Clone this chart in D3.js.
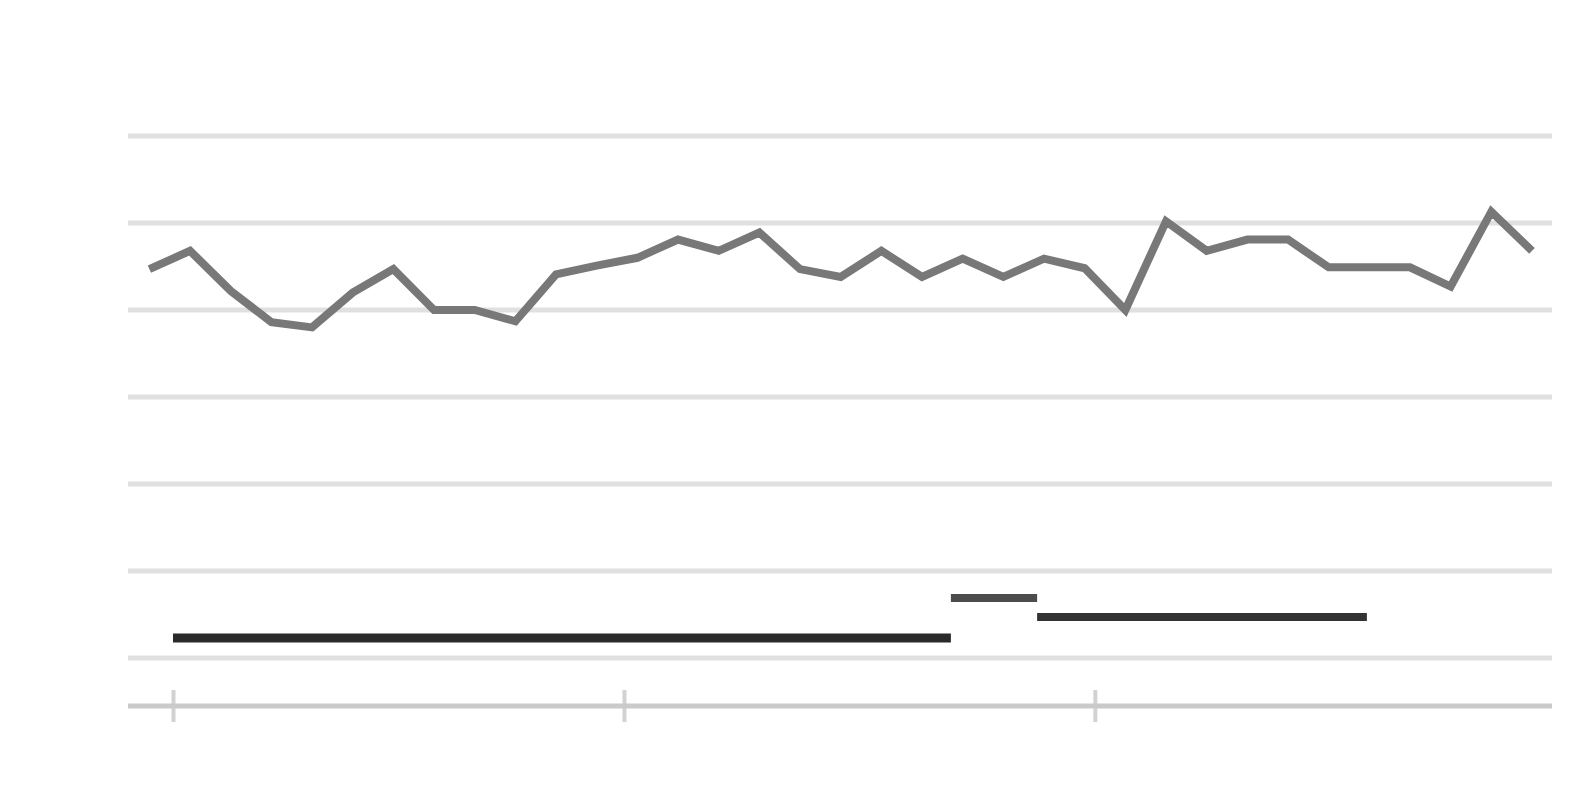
<!DOCTYPE html>
<html>
<head>
<meta charset="utf-8">
<script src="https://cdn.jsdelivr.net/npm/d3@7"></script>
<style>
  html, body { margin: 0; padding: 0; background: #fff; }
  svg { display: block; filter: blur(0.6px); }
</style>
</head>
<body>
<svg id="chart" width="1591" height="800"></svg>
<script>
// ---- data ----
const lineValues = [4.47, 4.68, 4.22, 3.86, 3.80, 4.20, 4.47, 4.00, 4.00, 3.87,
                    4.41, 4.51, 4.60, 4.81, 4.68, 4.89, 4.47, 4.38, 4.68, 4.38,
                    4.59, 4.38, 4.59, 4.48, 4.00, 5.02, 4.68, 4.81, 4.81, 4.49,
                    4.49, 4.49, 4.27, 5.13, 4.68];
const stepStarts = [0.58, 19.71, 21.83];
const stepEnds   = [19.71, 21.83, 29.94];
const stepValues = [0.23, 0.69, 0.47];
const gridValues = [0, 1, 2, 3, 4, 5, 6];
const xTickValues = [0.58, 11.67, 23.25];

// ---- layout ----
const svg = d3.select("#chart");
const x = d3.scaleLinear().domain([0, lineValues.length - 1]).range([149.4, 1532]);
const y = d3.scaleLinear().domain([0, 6]).range([658, 136]);
const plotLeft = 128, plotRight = 1552;
const axisY = 706;

// gridlines
svg.append("g").selectAll("line").data(gridValues).join("line")
  .attr("x1", plotLeft).attr("x2", plotRight)
  .attr("y1", d => y(d)).attr("y2", d => y(d))
  .attr("stroke", "#e0e0e0").attr("stroke-width", 5);

// x axis
const xAxis = d3.axisBottom(x).tickValues(xTickValues).tickSize(0).tickFormat("");
const gx = svg.append("g").attr("transform", `translate(0,${axisY})`).call(xAxis);
gx.select(".domain").remove();
gx.append("line").attr("x1", plotLeft).attr("x2", plotRight)
  .attr("y1", 0).attr("y2", 0).attr("stroke", "#cacaca").attr("stroke-width", 5);
gx.selectAll(".tick line").attr("y1", -16).attr("y2", 16)
  .attr("stroke", "#d2d2d2").attr("stroke-width", 4);

// main line
const line = d3.line().x((d, i) => x(i)).y(d => y(d));
svg.append("path").datum(lineValues)
  .attr("d", line).attr("fill", "none")
  .attr("stroke", "#787878").attr("stroke-width", 8)
  .attr("stroke-linejoin", "miter");

// step segments
const steps = stepValues.map((v, i) => ({ s: stepStarts[i], e: stepEnds[i], v }));
const stepColors = ["#2a2a2a", "#4c4c4c", "#333333"];
const stepWidths = [9, 8, 8];
svg.append("g").selectAll("line").data(steps).join("line")
  .attr("x1", d => x(d.s)).attr("x2", d => x(d.e))
  .attr("y1", d => y(d.v)).attr("y2", d => y(d.v))
  .attr("stroke", (d, i) => stepColors[i]).attr("stroke-width", (d, i) => stepWidths[i]);
</script>
</body>
</html>
